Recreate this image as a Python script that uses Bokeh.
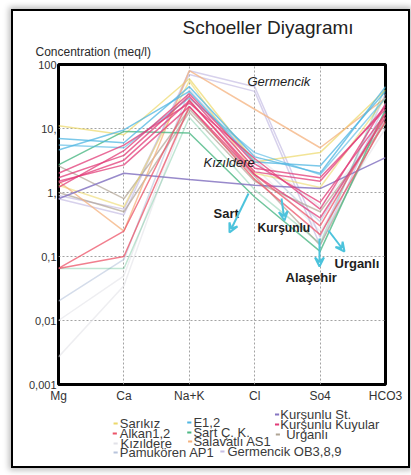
from bokeh.plotting import figure
from bokeh.layouts import column
from bokeh.models import (Label, Arrow, VeeHead, FixedTicker, Title, Range1d)
from bokeh.core.properties import value
from bokeh.embed import file_html
from bokeh.resources import INLINE

# ---------------- data ----------------
ions = ["Mg", "Ca", "Na+K", "Cl", "So4", "HCO3"]
y_ticks = [0.001, 0.01, 0.1, 1, 10, 100]
y_tick_labels = ["0,001", "0,01", "0,1", "1,", "10,", "100"]

# concentrations (meq/l) in order Mg, Ca, Na+K, Cl, So4, HCO3
kizildere_a = [0.01, 0.05, 30, 3.8, 0.6, 12]
kizildere_b = [0.0027, 0.035, 25, 2.5, 0.25, 10]
pamukoren_a = [0.02, 0.09, 40, 3.2, 0.35, 18]
germencik_a = [0.8, 0.45, 80, 45, 0.2, 35]
germencik_b = [0.9, 0.55, 70, 38, 0.15, 25]
urganli_a = [2.6, 0.8, 20, 1.8, 0.15, 15]
urganli_b = [1.0, 0.5, 18, 1.5, 0.5, 12]
sarikiz_a = [11, 8.0, 60, 3.0, 4.2, 40]
sarikiz_b = [1.3, 0.6, 55, 2.0, 1.2, 30]
salavatli_a = [1.5, 0.25, 80, 20, 5.0, 30]
sart_a = [2.7, 9.0, 8.5, 0.85, 0.12, 20]
sart_b = [0.065, 0.065, 15, 1.1, 0.16, 45]
e12_a = [7.0, 6.0, 45, 3.6, 2.0, 45]
e12_b = [4.6, 9.5, 38, 3.0, 2.6, 38]
e12_c = [5.5, 5.0, 30, 4.2, 1.9, 30]
kursunlu_st_a = [0.8, 2.0, 1.6, 1.3, 1.15, 3.5]
alkan_a = [0.065, 0.25, 28, 1.9, 0.3, 17]
alkan_b = [0.065, 0.1, 22, 1.6, 0.22, 13]
kuyular_a = [1.7, 3.8, 32, 2.4, 1.7, 20]
kuyular_b = [1.4, 3.2, 27, 2.1, 1.5, 22]
kuyular_c = [1.2, 4.5, 35, 2.8, 0.7, 17]
kuyular_d = [2.0, 5.5, 25, 3.4, 0.55, 24]
kuyular_e = [1.5, 2.7, 22, 1.9, 0.4, 15]

legend_names = ["Sarıkız", "Alkan1,2", "Kızıldere", "Pamukören AP1",
                "E1,2", "Sart Ç. K.", "Salavatlı AS1", "Germencik OB3,8,9",
                "Kurşunlu St.", "Kurşunlu Kuyular", "Urganlı"]

# ---------------- styles ----------------
colors = {
    "Sarıkız": "#ecd86a", "Alkan1,2": "#ec5468", "Kızıldere": "#e2e2e8",
    "Pamukören AP1": "#b8c4dc", "E1,2": "#4fb6e2", "Sart Ç. K.": "#4cb884",
    "Salavatlı AS1": "#f4b27e", "Germencik OB3,8,9": "#c6bde4",
    "Kurşunlu St.": "#8676c2", "Kurşunlu Kuyular": "#e23c78", "Urganlı": "#b0a494",
}

series = [
    (kizildere_a, "Kızıldere", 0.6), (kizildere_b, "Kızıldere", 0.6),
    (pamukoren_a, "Pamukören AP1", 0.6),
    (germencik_a, "Germencik OB3,8,9", 0.7), (germencik_b, "Germencik OB3,8,9", 0.7),
    (urganli_a, "Urganlı", 0.7), (urganli_b, "Urganlı", 0.7),
    (sarikiz_a, "Sarıkız", 0.7), (sarikiz_b, "Sarıkız", 0.6),
    (salavatli_a, "Salavatlı AS1", 0.75),
    (sart_b, "Sart Ç. K.", 0.35), (sart_a, "Sart Ç. K.", 0.8),
    (e12_a, "E1,2", 0.75), (e12_b, "E1,2", 0.75), (e12_c, "E1,2", 0.6),
    (kursunlu_st_a, "Kurşunlu St.", 0.85),
    (alkan_a, "Alkan1,2", 0.75), (alkan_b, "Alkan1,2", 0.75),
    (kuyular_a, "Kurşunlu Kuyular", 0.75), (kuyular_b, "Kurşunlu Kuyular", 0.75),
    (kuyular_c, "Kurşunlu Kuyular", 0.75), (kuyular_d, "Kurşunlu Kuyular", 0.75),
    (kuyular_e, "Kurşunlu Kuyular", 0.75),
]

FONT = "Liberation Sans"

p = figure(width=395, height=395, x_range=(0, 5), y_range=(0.001, 100),
           y_axis_type="log", output_backend="svg", toolbar_location=None,
           min_border_left=45, min_border_right=23, min_border_top=53,
           min_border_bottom=22)
p.background_fill_color = "white"
p.border_fill_color = "white"
p.outline_line_color = "black"
p.outline_line_width = 3
p.outline_line_alpha = 1

xs = list(range(len(ions)))
for vals, name, a in series:
    p.line(xs, vals, line_color=colors[name], line_width=1.5, line_alpha=a)

# axes
p.xaxis.ticker = FixedTicker(ticks=xs)
p.xaxis.major_label_overrides = {i: n for i, n in enumerate(ions)}
p.yaxis.ticker = FixedTicker(ticks=y_ticks)
p.yaxis.major_label_overrides = {t: l for t, l in zip(y_ticks, y_tick_labels)}
for ax in (p.xaxis, p.yaxis):
    ax.axis_line_color = None
    ax.major_tick_line_color = None
    ax.minor_tick_line_color = None
    ax.major_tick_out = 0
    ax.major_tick_in = 0
    ax.minor_tick_out = 0
    ax.minor_tick_in = 0
    ax.major_label_text_font = FONT
    ax.major_label_text_color = "#333333"
p.xaxis.major_label_text_font_size = "12px"
p.xaxis.major_label_standoff = 4
p.yaxis.major_label_text_font_size = "11px"
p.yaxis.major_label_standoff = 2

p.xgrid.ticker = FixedTicker(ticks=xs)
p.ygrid.ticker = FixedTicker(ticks=y_ticks)
for g in (p.xgrid, p.ygrid):
    g.grid_line_color = "#999999"
    g.grid_line_dash = "2 2"
    g.grid_line_alpha = 0.9

# titles in the top panel (later-added title sits closer to the frame)
p.title.text = "Schoeller Diyagramı"
p.title.align = "left"
p.title.offset = 124
p.title.standoff = 0
p.title.text_font = FONT
p.title.text_font_style = "normal"
p.title.text_font_size = "19px"
p.title.text_color = "#222222"
p.add_layout(Title(text="Concentration (meq/l)", align="left", offset=-23,
                   standoff=11, text_font=FONT, text_font_style="normal",
                   text_font_size="12px", text_color="#2a2a2a"), "above")

# in-plot annotations (screen px relative to the frame's bottom-left)
notes = [("Germencik", 189, 303, "italic", "13px"),
         ("Kızıldere", 145, 222, "italic", "13px"),
         ("Sart", 155, 171, "bold", "13px"),
         ("Kurşunlu", 199, 157, "bold", "12px"),
         ("Urganlı", 276, 121, "bold", "13px"),
         ("Alaşehir", 227, 107, "bold", "13px")]
for t, x, y, style, size in notes:
    p.add_layout(Label(x=x, y=y, x_units="screen", y_units="screen", text=t,
                       text_align="left", text_baseline="middle",
                       text_font=FONT, text_font_style=style,
                       text_font_size=size, text_color="#1e1e1e"))

arrows = [(190, 191, 171, 152), (223, 186, 226, 164),
          (261, 146, 261, 118), (270, 154, 286, 133)]
for x0, y0, x1, y1 in arrows:
    p.add_layout(Arrow(x_start=x0, y_start=y0, x_end=x1, y_end=y1,
                       start_units="screen", end_units="screen",
                       line_color="#4cc3dc", line_width=2,
                       end=VeeHead(size=9, line_color="#4cc3dc",
                                   line_width=2, fill_alpha=0)))

# ---------------- legend panel ----------------
leg_tx = [74, 74, 75, 74, 163, 163, 163, 204, 268, 268, 275]
leg_ty = [17, 27, 37, 46, 16, 26, 35, 45, 8, 18, 28]
leg_mx = [69, 68, 69, 69, 158, 158, 159, 198, 264, 264, 265]

lg = figure(width=395, height=60, x_range=Range1d(0, 395), y_range=Range1d(60, 0),
            output_backend="svg", toolbar_location=None, min_border=0)
lg.axis.visible = False
lg.grid.visible = False
lg.outline_line_color = None
lg.background_fill_color = "white"
lg.border_fill_color = "white"
lg.segment(x0=[m - 2.5 for m in leg_mx], y0=leg_ty,
           x1=[m + 2.5 for m in leg_mx], y1=leg_ty,
           line_color=[colors[n] for n in legend_names], line_width=2)
lg.text(x=leg_tx, y=leg_ty, text=legend_names, text_font=value(FONT),
        text_font_size=value("13px"), text_color="#3a3a3a",
        text_baseline="middle", text_align="left")

layout = column(p, lg, spacing=0,
                styles={"margin-left": "11px", "margin-top": "9px",
                        "border": "2px solid black",
                        "box-shadow": "0px 0px 6px 2px rgba(0,0,0,0.28)"})

open("out.html", "w").write(file_html(layout, INLINE))
